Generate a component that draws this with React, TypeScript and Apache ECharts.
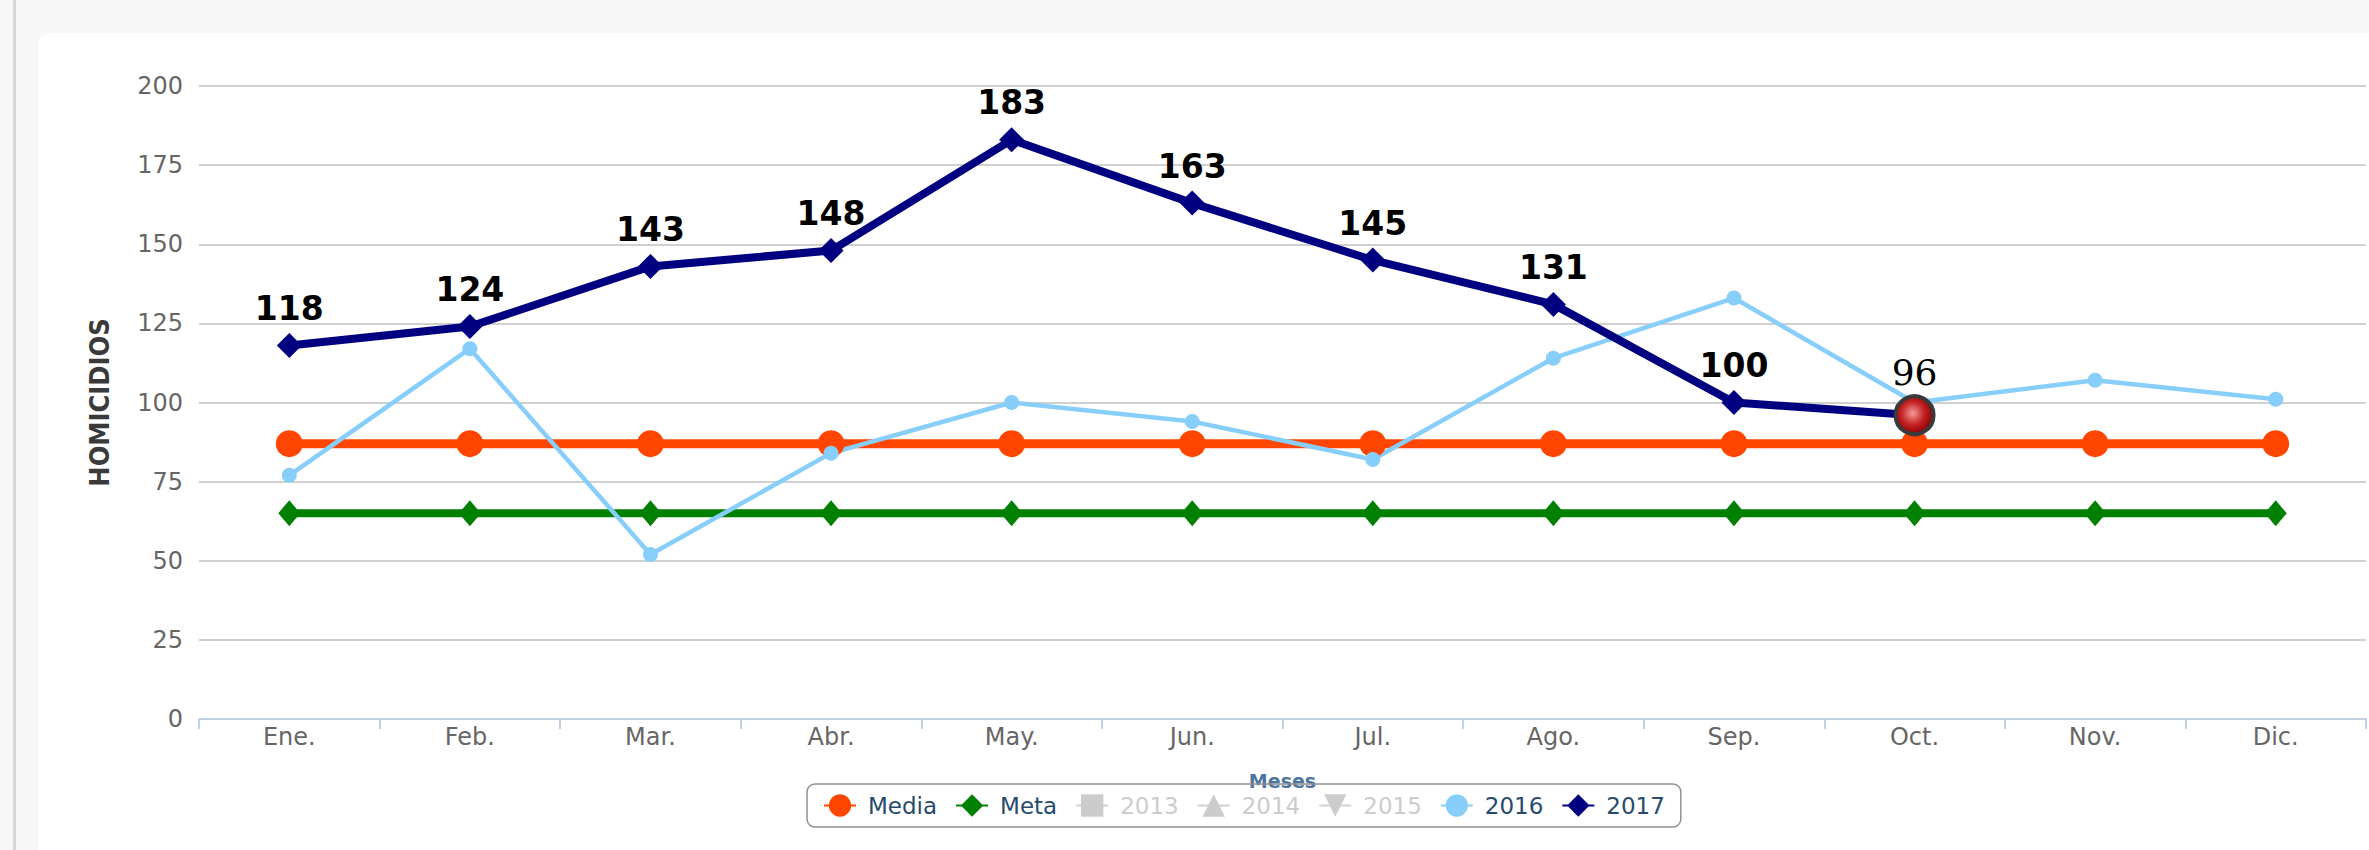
import React, { useEffect, useRef } from "react";
import * as echarts from "echarts";

const months = ["Ene.", "Feb.", "Mar.", "Abr.", "May.", "Jun.", "Jul.", "Ago.", "Sep.", "Oct.", "Nov.", "Dic."];
const media = [87, 87, 87, 87, 87, 87, 87, 87, 87, 87, 87, 87];
const meta = [65, 65, 65, 65, 65, 65, 65, 65, 65, 65, 65, 65];
const y2013: number[] = [];
const y2014: number[] = [];
const y2015: number[] = [];
const y2016 = [77, 117, 52, 84, 100, 94, 82, 114, 133, 100, 107, 101];
const y2017 = [118, 124, 143, 148, 183, 163, 145, 131, 100, 96];
const highlightIndex = 9;
const yTicks = { min: 0, max: 200, interval: 25 };

const sans = "'DejaVu Sans', Verdana, sans-serif";
const condensed = "'DejaVu Sans Condensed', 'Liberation Sans Narrow', Roboto, sans-serif";

export default function App() {
  const ref = useRef<HTMLDivElement>(null);
  useEffect(() => {
    document.body.style.margin = "0";
    const chart = echarts.init(ref.current!, undefined, { renderer: "svg" });
    const d2017 = y2017.map((v, i) =>
      i === highlightIndex
        ? {
            value: v,
            symbol: "circle",
            symbolSize: 38,
            itemStyle: {
              color: new echarts.graphic.RadialGradient(0.45, 0.45, 0.55, [
                { offset: 0, color: "#f29a9a" },
                { offset: 0.55, color: "#c42424" },
                { offset: 1, color: "#8c0000" },
              ]),
              borderColor: "#3a3a3a",
              borderWidth: 4,
            },
            label: {
              fontFamily: "'DejaVu Serif', 'Liberation Serif', serif",
              fontWeight: "normal",
              fontSize: 36,
              distance: 4,
            },
          }
        : v
    );
    chart.setOption({
      animation: false,
      backgroundColor: "transparent",
      grid: { left: 199, right: 3, top: 86, bottom: 131, containLabel: false },
      legend: {
        left: 807,
        top: 784,
        padding: [10, 16],
        borderColor: "#909090",
        borderWidth: 1.5,
        borderRadius: 8,
        itemWidth: 32,
        itemHeight: 28,
        itemGap: 18,
        inactiveColor: "#cccccc",
        textStyle: { fontFamily: sans, fontSize: 23, color: "#274b6d", padding: [0, 0, 0, 7] },
        data: ["Media", "Meta", "2013", "2014", "2015", "2016", "2017"],
        selected: { "2013": false, "2014": false, "2015": false },
      },
      xAxis: {
        type: "category",
        data: months,
        boundaryGap: true,
        name: "Meses",
        nameLocation: "middle",
        nameGap: 52,
        nameTextStyle: { fontFamily: sans, fontSize: 19, fontWeight: "bold", color: "#4d759e" },
        axisLine: { lineStyle: { color: "#C0D0E0", width: 2 } },
        axisTick: { show: true, length: 10, lineStyle: { color: "#C0D0E0", width: 2 } },
        axisLabel: { fontFamily: sans, fontSize: 24, color: "#666666", margin: 6 },
      },
      yAxis: {
        type: "value",
        min: yTicks.min,
        max: yTicks.max,
        interval: yTicks.interval,
        name: "HOMICIDIOS",
        nameLocation: "middle",
        nameGap: 86,
        nameRotate: 90,
        nameTextStyle: { fontFamily: condensed, fontSize: 27, fontWeight: "bold", color: "#3a3a3a" },
        axisLine: { show: false },
        axisTick: { show: false },
        splitLine: { lineStyle: { color: "#C0C0C0", width: 1.5 } },
        axisLabel: { fontFamily: sans, fontSize: 24, color: "#666666", margin: 16 },
      },
      series: [
        {
          name: "Media",
          type: "line",
          data: media,
          symbol: "circle",
          symbolSize: 27,
          lineStyle: { color: "#FF4500", width: 9 },
          itemStyle: { color: "#FF4500" },
        },
        {
          name: "Meta",
          type: "line",
          data: meta,
          symbol: "diamond",
          symbolSize: [22, 26],
          lineStyle: { color: "#008000", width: 8 },
          itemStyle: { color: "#008000" },
        },
        { name: "2013", type: "line", data: y2013, symbol: "rect", symbolSize: 14, itemStyle: { color: "#7cb5ec" } },
        { name: "2014", type: "line", data: y2014, symbol: "triangle", symbolSize: 14, itemStyle: { color: "#434348" } },
        { name: "2015", type: "line", data: y2015, symbol: "path://M0,0 L10,0 L5,10 Z", symbolSize: 14, itemStyle: { color: "#90ed7d" } },
        {
          name: "2016",
          type: "line",
          data: y2016,
          symbol: "circle",
          symbolSize: 15,
          lineStyle: { color: "#87CEFA", width: 4.5 },
          itemStyle: { color: "#87CEFA" },
        },
        {
          name: "2017",
          type: "line",
          data: d2017,
          symbol: "diamond",
          symbolSize: [25, 25],
          lineStyle: { color: "#000080", width: 8 },
          itemStyle: { color: "#000080" },
          label: {
            show: true,
            position: "top",
            distance: 8,
            fontFamily: sans,
            fontWeight: "bold",
            fontSize: 33,
            color: "#000000",
          },
        },
      ],
    });
    return () => chart.dispose();
  }, []);
  return (
    <div style={{ position: "fixed", left: 0, top: 0, width: 2369, height: 850, background: "#f7f7f7", overflow: "hidden" }}>
      <div style={{ position: "absolute", left: 13, top: 0, width: 3, height: 850, background: "#d8d8d8" }} />
      <div style={{ position: "absolute", left: 38, top: 33, width: 2400, height: 900, background: "#ffffff", borderRadius: 12 }} />
      <div ref={ref} style={{ position: "absolute", left: 0, top: 0, width: 2369, height: 850 }} />
    </div>
  );
}
